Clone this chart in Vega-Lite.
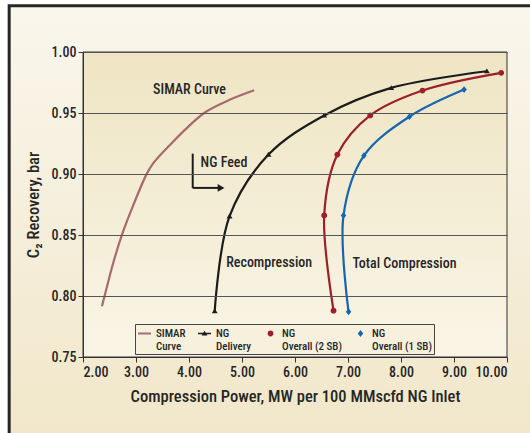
{
  "$schema": "https://vega.github.io/schema/vega-lite/v6.json",
  "width": 424,
  "height": 305,
  "autosize": {"type": "none"},
  "padding": {"left": 83, "top": 52, "right": 23, "bottom": 76},
  "background": "#ffffff",
  "config": {
    "view": {"stroke": null},
    "font": "Roboto Condensed, Roboto, sans-serif",
    "axis": {
      "labelFont": "Roboto Condensed, Roboto, sans-serif",
      "labelFontSize": 14,
      "labelFontWeight": 500,
      "labelColor": "#262626",
      "titleFont": "Roboto Condensed, Roboto, sans-serif",
      "titleFontSize": 16.5,
      "titleFontWeight": 500,
      "titleColor": "#262626",
      "domainColor": "#333333",
      "tickColor": "#333333",
      "tickSize": 5,
      "gridColor": "#555555",
      "gridWidth": 1,
      "gridOpacity": 1
    },
    "legend": {
      "labelFont": "Roboto Condensed, Roboto, sans-serif",
      "labelFontSize": 11,
      "labelFontWeight": 500,
      "labelColor": "#262626",
      "labelOffset": 4,
      "symbolSize": 169,
      "columnPadding": 11,
      "padding": 2,
      "strokeColor": "#444444",
      "fillColor": "#f6f0dd"
    },
    "style": {"guide-label": {"lineHeight": 13.5}}
  },
  "datasets": {
    "curves": [
      {"series": "SIMAR Curve", "x": 2.357, "y": 0.7916},
      {"series": "SIMAR Curve", "x": 2.406, "y": 0.7998},
      {"series": "SIMAR Curve", "x": 2.57, "y": 0.8271},
      {"series": "SIMAR Curve", "x": 2.734, "y": 0.8501},
      {"series": "SIMAR Curve", "x": 2.94, "y": 0.8735},
      {"series": "SIMAR Curve", "x": 3.202, "y": 0.9001},
      {"series": "SIMAR Curve", "x": 3.33, "y": 0.9091},
      {"series": "SIMAR Curve", "x": 3.677, "y": 0.9255},
      {"series": "SIMAR Curve", "x": 3.928, "y": 0.9364},
      {"series": "SIMAR Curve", "x": 4.306, "y": 0.9506},
      {"series": "SIMAR Curve", "x": 4.777, "y": 0.961},
      {"series": "SIMAR Curve", "x": 5.23, "y": 0.9686},
      {"series": "NG Delivery", "x": 4.485, "y": 0.7875},
      {"series": "NG Delivery", "x": 4.764, "y": 0.8653},
      {"series": "NG Delivery", "x": 5.5, "y": 0.9159},
      {"series": "NG Delivery", "x": 6.55, "y": 0.948},
      {"series": "NG Delivery", "x": 7.815, "y": 0.9706},
      {"series": "NG Delivery", "x": 9.62, "y": 0.9842},
      {"series": "NG Overall (2 SB)", "x": 6.727, "y": 0.788},
      {"series": "NG Overall (2 SB)", "x": 6.551, "y": 0.866},
      {"series": "NG Overall (2 SB)", "x": 6.8, "y": 0.9159},
      {"series": "NG Overall (2 SB)", "x": 7.419, "y": 0.948},
      {"series": "NG Overall (2 SB)", "x": 8.406, "y": 0.9684},
      {"series": "NG Overall (2 SB)", "x": 9.89, "y": 0.9829},
      {"series": "NG Overall (1 SB)", "x": 7.01, "y": 0.787},
      {"series": "NG Overall (1 SB)", "x": 6.915, "y": 0.866},
      {"series": "NG Overall (1 SB)", "x": 7.3, "y": 0.915},
      {"series": "NG Overall (1 SB)", "x": 8.16, "y": 0.947},
      {"series": "NG Overall (1 SB)", "x": 9.19, "y": 0.9692}
    ],
    "notes": [
      {"label": "SIMAR Curve", "x": 4.01, "y": 0.969},
      {"label": "NG Feed", "x": 4.66, "y": 0.909},
      {"label": "Recompression", "x": 5.513, "y": 0.827},
      {"label": "Total Compression", "x": 8.066, "y": 0.8262}
    ],
    "feedArrow": [
      {"x": 4.07, "y": 0.9167, "x2": 4.07, "y2": 0.8886},
      {"x": 4.07, "y": 0.8886, "x2": 4.6, "y2": 0.8886}
    ],
    "feedHead": [{"x": 4.605, "y": 0.8886}]
  },
  "layer": [
    {
      "data": {"values": [{}]},
      "mark": {
        "type": "rect",
        "clip": false,
        "stroke": "#262626",
        "strokeWidth": 3,
        "fill": {
          "gradient": "linear", "x1": 0, "y1": 0, "x2": 0, "y2": 1,
          "stops": [{"offset": 0, "color": "#f9f6ec"}, {"offset": 1, "color": "#f1e6c8"}]
        }
      },
      "encoding": {
        "x": {
          "datum": 0.607, "type": "quantitative",
          "scale": {"domain": [2, 10], "nice": false, "zero": false},
          "axis": {
            "values": [2, 3, 4, 5, 6, 7, 8, 9, 10],
            "format": ".2f",
            "grid": false,
            "title": "Compression Power, MW per 100 MMscfd NG Inlet",
            "labelPadding": 3,
            "titlePadding": 9,
            "zindex": 2
          }
        },
        "x2": {"datum": 10.8},
        "y": {
          "datum": 1.038, "type": "quantitative",
          "scale": {"domain": [0.75, 1.0], "nice": false, "zero": false},
          "axis": {
            "values": [0.75, 0.8, 0.85, 0.9, 0.95, 1.0],
            "format": ".2f",
            "grid": true,
            "title": "C₂ Recovery, bar",
            "labelPadding": 2,
            "titlePadding": 10,
            "zindex": 2
          }
        },
        "y2": {"datum": 0.67}
      }
    },
    {
      "data": {"values": [{}]},
      "mark": {
        "type": "rect",
        "clip": false,
        "stroke": "#333333",
        "strokeWidth": 1,
        "fill": {
          "gradient": "linear", "x1": 0, "y1": 0, "x2": 0, "y2": 1,
          "stops": [{"offset": 0, "color": "#efe5c4"}, {"offset": 1, "color": "#f9f5e6"}]
        }
      },
      "encoding": {
        "x": {"datum": 2, "type": "quantitative", "scale": {"domain": [2, 10], "nice": false, "zero": false}},
        "x2": {"datum": 10},
        "y": {"datum": 1.0, "type": "quantitative", "scale": {"domain": [0.75, 1.0], "nice": false, "zero": false}},
        "y2": {"datum": 0.75}
      }
    },
    {
      "data": {"name": "curves"},
      "mark": {"type": "line", "interpolate": "catmull-rom", "strokeWidth": 2.2, "clip": false},
      "encoding": {
        "x": {"field": "x", "type": "quantitative", "scale": {"domain": [2, 10], "nice": false, "zero": false}},
        "y": {"field": "y", "type": "quantitative", "scale": {"domain": [0.75, 1.0], "nice": false, "zero": false}},
        "stroke": {
          "field": "series", "type": "nominal",
          "scale": {
            "domain": ["NG Delivery", "NG Overall (1 SB)", "NG Overall (2 SB)", "SIMAR Curve"],
            "range": ["#1c1c1c", "#1565b0", "#9c1f2a", "#a66a70"]
          },
          "legend": null
        },
        "order": {"field": "y", "type": "quantitative"}
      }
    },
    {
      "data": {"name": "curves"},
      "transform": [{"filter": "datum.series == 'NG Delivery'"}],
      "mark": {
        "type": "point", "filled": true, "opacity": 1, "size": 169, "clip": false,
        "color": "#1c1c1c",
        "shape": "M-0.45,0.32L0,-0.42L0.45,0.32Z"
      },
      "encoding": {
        "x": {"field": "x", "type": "quantitative", "scale": {"domain": [2, 10], "nice": false, "zero": false}},
        "y": {"field": "y", "type": "quantitative", "scale": {"domain": [0.75, 1.0], "nice": false, "zero": false}}
      }
    },
    {
      "data": {"name": "curves"},
      "transform": [{"filter": "datum.series == 'NG Overall (2 SB)' || datum.series == 'NG Overall (1 SB)'"}],
      "mark": {"type": "point", "filled": true, "opacity": 1, "size": 169, "clip": false},
      "encoding": {
        "x": {"field": "x", "type": "quantitative", "scale": {"domain": [2, 10], "nice": false, "zero": false}},
        "y": {"field": "y", "type": "quantitative", "scale": {"domain": [0.75, 1.0], "nice": false, "zero": false}},
        "color": {
          "field": "series", "type": "nominal",
          "scale": {
            "domain": ["SIMAR Curve", "NG Delivery", "NG Overall (2 SB)", "NG Overall (1 SB)"],
            "range": ["#a66a70", "#1c1c1c", "#9c1f2a", "#1565b0"]
          },
          "legend": {
            "title": null,
            "orient": "none",
            "legendX": 52,
            "legendY": 272,
            "direction": "horizontal",
            "zindex": 2,
            "labelExpr": "[slice(datum.label, 0, indexof(datum.label, ' ')), slice(datum.label, indexof(datum.label, ' ') + 1)]"
          }
        },
        "shape": {
          "field": "series", "type": "nominal",
          "scale": {
            "domain": ["SIMAR Curve", "NG Delivery", "NG Overall (2 SB)", "NG Overall (1 SB)"],
            "range": [
              "M-1,-0.15H1V0.15H-1Z",
              "M-1,-0.13H1V0.13H-1ZM-0.45,0.32L0,-0.42L0.45,0.32Z",
              "M0.45,0A0.45,0.45,0,1,1,-0.45,0A0.45,0.45,0,1,1,0.45,0Z",
              "M0,-0.52L0.42,0L0,0.52L-0.42,0Z"
            ]
          },
          "legend": {
            "title": null,
            "orient": "none",
            "legendX": 52,
            "legendY": 272,
            "direction": "horizontal",
            "zindex": 2,
            "labelExpr": "[slice(datum.label, 0, indexof(datum.label, ' ')), slice(datum.label, indexof(datum.label, ' ') + 1)]"
          }
        }
      }
    },
    {
      "data": {"name": "notes"},
      "mark": {"type": "text", "fontSize": 14, "fontWeight": 500, "color": "#262626", "align": "center", "baseline": "middle"},
      "encoding": {
        "x": {"field": "x", "type": "quantitative", "scale": {"domain": [2, 10], "nice": false, "zero": false}},
        "y": {"field": "y", "type": "quantitative", "scale": {"domain": [0.75, 1.0], "nice": false, "zero": false}},
        "text": {"field": "label"}
      }
    },
    {
      "data": {"name": "feedArrow"},
      "mark": {"type": "rule", "color": "#1c1c1c", "strokeWidth": 2},
      "encoding": {
        "x": {"field": "x", "type": "quantitative", "scale": {"domain": [2, 10], "nice": false, "zero": false}},
        "y": {"field": "y", "type": "quantitative", "scale": {"domain": [0.75, 1.0], "nice": false, "zero": false}},
        "x2": {"field": "x2"},
        "y2": {"field": "y2"}
      }
    },
    {
      "data": {"name": "feedHead"},
      "mark": {"type": "point", "shape": "triangle-right", "filled": true, "opacity": 1, "color": "#1c1c1c", "size": 60},
      "encoding": {
        "x": {"field": "x", "type": "quantitative", "scale": {"domain": [2, 10], "nice": false, "zero": false}},
        "y": {"field": "y", "type": "quantitative", "scale": {"domain": [0.75, 1.0], "nice": false, "zero": false}}
      }
    }
  ]
}
